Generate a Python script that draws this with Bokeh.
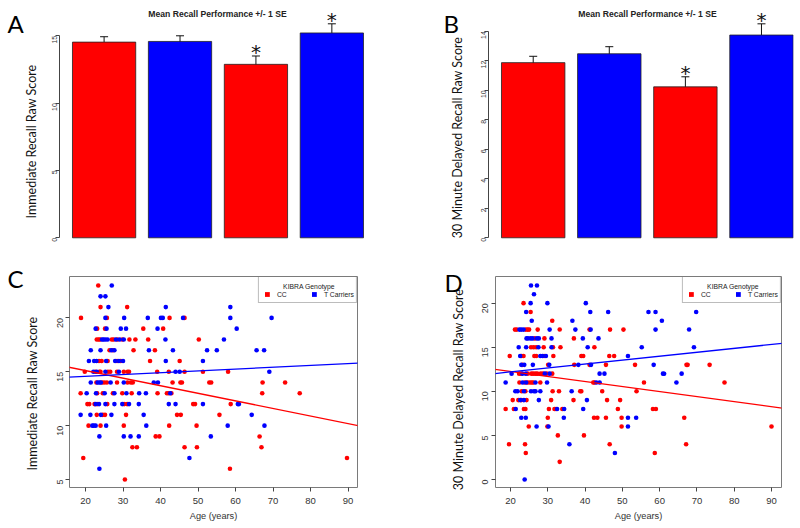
import math
from bokeh.plotting import figure
from bokeh.models import (ColumnDataSource, Range1d, FixedTicker, Whisker, TeeHead,
                          Label, Slope, Legend, LegendItem)
from bokeh.layouts import column, row
from bokeh.embed import file_html
from bokeh.resources import INLINE
from bokeh.core.properties import value

# ------------------------------------------------------------------ data
bar_groups = ["CC", "T Carriers", "CC", "T Carriers"]
bar_colors = ["#ff0000", "#0000ff", "#ff0000", "#0000ff"]

imm_mean = [14.53, 14.58, 12.88, 15.21]
imm_se = [0.40, 0.42, 0.62, 0.68]
imm_sig = [False, False, True, True]
imm_ticks = [0, 5, 10, 15]

del_mean = [11.87, 12.47, 10.23, 13.74]
del_se = [0.43, 0.48, 0.68, 0.76]
del_sig = [False, False, True, True]
del_ticks = [0, 2, 4, 6, 8, 10, 12, 14]

age_ticks = [20, 30, 40, 50, 60, 70, 80, 90]
imm_score_ticks = [5, 10, 15, 20]
del_score_ticks = [0, 5, 10, 15, 20]

# Panel C: immediate recall vs age
c_cc_age = [
    23.4,
    24.0, 31.1,
    18.8, 25.7, 42.4, 46.4,
    23.1, 25.2, 35.4, 40.7,
    23.0, 23.5, 23.9, 27.0, 27.5, 28.5, 29.8, 31.7, 33.3, 36.7, 50.2,
    26.4, 27.3, 32.8, 38.5,
    23.6, 24.3, 25.9, 28.4, 29.4, 37.2, 45.1,
    19.8, 22.6, 23.7, 24.0, 26.0, 26.6, 28.4, 30.2, 31.2, 31.6, 39.1, 42.2, 46.4, 51.3, 58.0,
    22.9, 24.4, 25.0, 25.7, 28.4, 31.2, 32.1, 32.6, 43.2, 45.3, 45.7, 53.0, 53.5, 67.2, 73.2,
    18.7, 23.1, 24.6, 27.3, 29.8, 32.3, 39.2, 41.7, 42.2, 42.9, 67.1, 77.1,
    20.5, 21.0, 22.4, 23.1, 25.8, 30.3, 31.1, 48.7, 49.2, 58.7,
    23.0, 24.6, 25.2, 30.8, 44.4, 45.4, 55.7,
    20.8, 24.0, 30.2, 42.3, 49.6,
    38.7, 39.7, 66.4,
    32.5, 33.7, 46.4, 49.7, 66.9,
    19.4, 89.7,
    58.5,
    30.5,
]
c_cc_score = [
    23,
    21, 21,
    20, 20, 20, 20,
    19, 19, 19, 19,
    18, 18, 18, 18, 18, 18, 18, 18, 18, 18, 18,
    17, 17, 17, 17,
    16, 16, 16, 16, 16, 16, 16,
    15, 15, 15, 15, 15, 15, 15, 15, 15, 15, 15, 15, 15, 15, 15,
    14, 14, 14, 14, 14, 14, 14, 14, 14, 14, 14, 14, 14, 14, 14,
    13, 13, 13, 13, 13, 13, 13, 13, 13, 13, 13, 13,
    12, 12, 12, 12, 12, 12, 12, 12, 12, 12,
    11, 11, 11, 11, 11, 11, 11,
    10, 10, 10, 10, 10,
    9, 9, 9,
    8, 8, 8, 8, 8,
    7, 7,
    6,
    5,
]
c_t_age = [
    27.0,
    24.0, 25.3,
    26.1, 41.4, 58.6,
    25.3, 30.3, 36.6, 40.1, 40.6, 46.0, 58.6, 69.6,
    22.7, 25.6, 29.4, 30.8, 39.2, 60.3,
    24.4, 24.8, 25.3, 25.9, 28.1, 29.1, 30.2, 41.3, 56.9,
    21.4, 24.0, 26.9, 27.7, 36.9, 43.3, 52.4, 55.0, 65.6, 67.6,
    20.9, 22.3, 22.9, 25.5, 27.9, 28.9, 30.0, 41.4, 51.3,
    22.1, 23.0, 25.3, 28.9, 44.0, 45.1, 69.0,
    21.4, 23.2, 23.7, 24.1, 26.7, 30.2, 38.2, 39.3,
    20.3, 22.8, 25.1, 27.7, 30.9, 34.3, 36.1, 42.6,
    22.7, 23.6, 25.3, 27.7, 29.8, 31.6, 34.2, 42.2, 44.0, 51.3, 60.6, 60.9,
    18.7, 21.3, 24.1, 26.9, 35.5, 64.3,
    21.8, 22.2, 22.7, 25.5, 36.2, 57.9, 67.7,
    23.7, 30.2, 32.0, 34.2, 53.4,
    47.7,
    23.7,
]
c_t_score = [
    23,
    22, 22,
    21, 21, 21,
    20, 20, 20, 20, 20, 20, 20, 20,
    19, 19, 19, 19, 19, 19,
    18, 18, 18, 18, 18, 18, 18, 18, 18,
    17, 17, 17, 17, 17, 17, 17, 17, 17, 17,
    16, 16, 16, 16, 16, 16, 16, 16, 16,
    15, 15, 15, 15, 15, 15, 15,
    14, 14, 14, 14, 14, 14, 14, 14,
    13, 13, 13, 13, 13, 13, 13, 13,
    12, 12, 12, 12, 12, 12, 12, 12, 12, 12, 12, 12,
    11, 11, 11, 11, 11, 11,
    10, 10, 10, 10, 10, 10, 10,
    9, 9, 9, 9, 9,
    7,
    6,
]

# Panel D: 30-minute delayed recall vs age
d_cc_age = [
    23.5,
    25.4,
    31.2,
    21.2, 21.7, 24.1, 24.6, 25.0, 27.3, 33.2, 41.2, 46.7, 50.3,
    26.5, 29.1, 37.0,
    25.5, 26.2, 26.9, 28.9, 31.4, 33.4, 42.5,
    19.8, 23.0, 23.5, 26.4, 26.9, 29.0, 31.5, 39.0, 39.5, 46.5, 47.8,
    23.2, 30.1, 37.1, 41.2, 45.6, 53.4, 67.2, 67.5, 73.4,
    22.3, 22.8, 24.6, 25.6, 26.1, 26.7, 27.2, 28.1, 28.7, 29.7, 31.2,
    22.4, 23.8, 24.6, 25.2, 25.7, 26.1, 28.0, 42.2, 42.5, 55.8, 77.4,
    23.0, 24.0, 31.3, 33.0, 38.7, 39.0, 44.6, 53.8,
    20.6, 22.1, 22.9, 24.3, 30.9, 36.9, 45.9, 49.4,
    18.7, 20.9, 23.6, 24.0, 30.3, 31.8, 32.2, 33.9, 48.8, 58.2, 59.0,
    30.0, 42.4, 43.3, 45.6, 49.8, 66.6,
    24.9, 29.9, 49.8, 90.0,
    32.7, 39.7,
    19.6, 23.9, 46.6, 67.1,
    24.1, 58.7,
    33.2,
]
d_cc_score = [
    20,
    19,
    18,
    17, 17, 17, 17, 17, 17, 17, 17, 17, 17,
    16, 16, 16,
    15, 15, 15, 15, 15, 15, 15,
    14, 14, 14, 14, 14, 14, 14, 14, 14, 14, 14,
    13, 13, 13, 13, 13, 13, 13, 13, 13,
    12, 12, 12, 12, 12, 12, 12, 12, 12, 12, 12,
    11, 11, 11, 11, 11, 11, 11, 11, 11, 11, 11,
    10, 10, 10, 10, 10, 10, 10, 10,
    9, 9, 9, 9, 9, 9, 9, 9,
    8, 8, 8, 8, 8, 8, 8, 8, 8, 8, 8,
    7, 7, 7, 7, 7, 7,
    6, 6, 6, 6,
    5, 5,
    4, 4, 4, 4,
    3, 3,
    2,
]
d_t_age = [
    25.5, 27.1,
    26.3,
    25.4, 29.9, 40.2,
    24.2, 41.4, 46.2, 57.0, 58.9, 69.8,
    25.7, 36.6, 60.6,
    22.4, 22.9, 23.5, 30.5, 37.4, 41.5, 58.9, 67.9,
    24.3, 24.7, 25.4, 25.9, 27.1, 27.6, 31.0, 39.4, 43.6,
    22.2, 24.2, 27.5, 31.0, 40.7, 55.2, 69.2,
    22.6, 28.0, 28.6, 29.5, 51.5,
    22.9, 23.7, 26.0, 30.4, 38.2, 41.6, 58.4,
    20.3, 23.2, 24.1, 29.2, 30.5, 43.9, 45.2, 60.9, 61.2, 65.9,
    18.7, 23.2, 24.2, 26.7, 29.8, 43.0, 43.9, 64.5,
    21.3, 21.9, 23.6, 25.5, 26.3, 26.7, 28.0, 36.4,
    22.6, 23.6, 27.6, 40.5,
    21.4, 32.5, 34.4, 39.5,
    22.9, 24.1, 34.3, 51.5, 53.7,
    27.0, 30.2, 51.5,
    35.8,
    48.0,
    23.8,
]
d_t_score = [
    22, 22,
    21,
    20, 20, 20,
    19, 19, 19, 19, 19, 19,
    18, 18, 18,
    17, 17, 17, 17, 17, 17, 17, 17,
    16, 16, 16, 16, 16, 16, 16, 16, 16,
    15, 15, 15, 15, 15, 15, 15,
    14, 14, 14, 14, 14,
    13, 13, 13, 13, 13, 13, 13,
    12, 12, 12, 12, 12, 12, 12, 12, 12, 12,
    11, 11, 11, 11, 11, 11, 11, 11,
    10, 10, 10, 10, 10, 10, 10, 10,
    9, 9, 9, 9,
    8, 8, 8, 8,
    7, 7, 7, 7, 7,
    6, 6, 6,
    4,
    3,
    0,
]

# fitted regression lines (intercept, slope)
c_cc_fit = (16.52, -0.0704)
c_t_fit = (14.24, 0.0168)
d_cc_fit = (13.40, -0.0572)
d_t_fit = (11.31, 0.0445)

assert len(c_cc_age) == len(c_cc_score)
assert len(c_t_age) == len(c_t_score)
assert len(d_cc_age) == len(d_cc_score)
assert len(d_t_age) == len(d_t_score)

# ------------------------------------------------------------------ helpers
RED = "#ff0000"
BLUE = "#0000ff"
FIG_W, FIG_H = 400, 264
AX_COL = "#444444"
TXT = "#333333"
NAN = float("nan")


def dx(p, fw, px):
    r = p.x_range
    return r.start + (r.end - r.start) * px / fw


def dy(p, fh, py):
    r = p.y_range
    return r.start + (r.end - r.start) * py / fh


def make_label(p, fw, fh, px, py, text, size, font="Liberation Sans", style="normal",
               align="left", baseline="alphabetic", color="#000000", angle=0.0):
    return Label(x=dx(p, fw, px), y=dy(p, fh, py), text=text, text_font=font,
                 text_font_size=size, text_font_style=style, text_align=align,
                 text_baseline=baseline, text_color=color, angle=angle)


def style_yaxis(ax, ticks, tick_size, tick_standoff, bounds=None):
    ax.ticker = FixedTicker(ticks=ticks)
    if bounds is not None:
        ax.bounds = bounds
    ax.major_label_orientation = math.pi / 2
    ax.major_tick_out = 4
    ax.major_tick_in = 0
    ax.minor_tick_out = 0
    ax.minor_tick_in = 0
    ax.axis_line_color = AX_COL
    ax.major_tick_line_color = AX_COL
    ax.major_label_text_font = "Liberation Sans"
    ax.major_label_text_font_size = tick_size
    ax.major_label_text_color = TXT
    ax.major_label_standoff = tick_standoff


def add_side_texts(p, fw, fh, ylabel, ylabel_pos, letter, letter_pos):
    # y-axis title (rotated) and panel letter, placed in the left side panel
    p.add_layout(make_label(p, fw, fh, ylabel_pos[0], ylabel_pos[1], ylabel, "12.5px",
                            font="Lato", align="center", baseline="middle",
                            color="#111111", angle=math.pi / 2), "left")
    p.add_layout(make_label(p, fw, fh, letter_pos[0], letter_pos[1], letter, "24px",
                            font="Lato"), "left")


def bar_panel(means, ses, sig, ticks, ylabel, ml, mr, xr, yr, letter, letter_pos,
              title_pos, ylabel_pos):
    mt, mb = 0, 18
    p = figure(width=FIG_W, height=FIG_H, x_range=Range1d(*xr), y_range=Range1d(*yr),
               x_axis_location=None, output_backend="svg", toolbar_location=None,
               min_border_left=ml, min_border_right=mr, min_border_top=mt,
               min_border_bottom=mb)
    fw, fh = FIG_W - ml - mr, FIG_H - mt - mb
    p.grid.visible = False
    p.outline_line_color = None
    xs = [0.7 + 1.2 * i for i in range(len(means))]
    upper = [m + s for m, s in zip(means, ses)]
    lower = [m - s for m, s in zip(means, ses)]
    src = ColumnDataSource(dict(x=xs, top=means, upper=upper, lower=lower,
                                color=bar_colors, group=bar_groups))
    p.vbar(x="x", top="top", bottom=0, width=1.0, fill_color="color",
           line_color="#222222", line_width=0.8, source=src)
    p.add_layout(Whisker(source=src, base="x", upper="upper", lower="lower",
                         line_color="#111111", line_width=1,
                         upper_head=TeeHead(size=8, line_color="#111111", line_width=1),
                         lower_head=TeeHead(size=8, line_color="#111111", line_width=1)))
    sx = [x for x, s in zip(xs, sig) if s]
    sy = [u for u, s in zip(upper, sig) if s]
    p.text(x=sx, y=sy, text=["*"] * len(sx), y_offset=-4, text_align="center",
           text_baseline="middle", text_font=value("DejaVu Sans"),
           text_font_size="20px", text_color="#111111")
    style_yaxis(p.yaxis[0], ticks, "7px", 1, bounds=(ticks[0], ticks[-1]))
    p.add_layout(make_label(p, fw, fh, title_pos[0], title_pos[1],
                            "Mean Recall Performance +/- 1 SE", "8.6px", style="bold",
                            align="center", color="#222222"))
    add_side_texts(p, fw, fh, ylabel, ylabel_pos, letter, letter_pos)
    return p


def scatter_panel(cc_age, cc_score, t_age, t_score, cc_fit, t_fit, ticks, ylabel,
                  ml, mr, xr, yr, letter, letter_pos, tick_standoff, ylabel_pos):
    mt, mb = 12, 41
    p = figure(width=FIG_W, height=FIG_H, x_range=Range1d(*xr), y_range=Range1d(*yr),
               output_backend="svg", toolbar_location=None,
               min_border_left=ml, min_border_right=mr, min_border_top=mt,
               min_border_bottom=mb)
    fw, fh = FIG_W - ml - mr, FIG_H - mt - mb
    p.grid.visible = False
    p.outline_line_color = "#7a7a7a"
    p.outline_line_width = 1
    p.scatter(cc_age, cc_score, size=4.6, fill_color=RED, line_color=None)
    p.scatter(t_age, t_score, size=4.6, fill_color=BLUE, line_color=None)
    p.add_layout(Slope(gradient=cc_fit[1], y_intercept=cc_fit[0], line_color=RED,
                       line_width=1.3))
    p.add_layout(Slope(gradient=t_fit[1], y_intercept=t_fit[0], line_color=BLUE,
                       line_width=1.3))

    xa = p.xaxis[0]
    xa.ticker = FixedTicker(ticks=age_ticks)
    xa.major_tick_out = 4
    xa.major_tick_in = 0
    xa.minor_tick_out = 0
    xa.minor_tick_in = 0
    xa.axis_line_color = None
    xa.major_tick_line_color = AX_COL
    xa.major_label_text_font = "Liberation Sans"
    xa.major_label_text_font_size = "9.5px"
    xa.major_label_text_color = TXT
    xa.major_label_standoff = 6
    xa.axis_label = "Age (years)"
    xa.axis_label_text_font = "Liberation Sans"
    xa.axis_label_text_font_size = "9.2px"
    xa.axis_label_text_font_style = "normal"
    xa.axis_label_text_color = TXT
    xa.axis_label_standoff = 4

    ya = p.yaxis[0]
    style_yaxis(ya, ticks, "9px", tick_standoff)
    ya.axis_line_color = None

    r_cc = p.scatter([NAN], [NAN], marker="square", size=5, fill_color=RED, line_color=None)
    r_t = p.scatter([NAN], [NAN], marker="square", size=5, fill_color=BLUE, line_color=None)
    leg = Legend(items=[LegendItem(label="CC", renderers=[r_cc]),
                        LegendItem(label="T Carriers", renderers=[r_t])],
                 orientation="horizontal", location="top_right", title=" ",
                 margin=0, padding=2, spacing=3, glyph_width=12, glyph_height=12,
                 label_standoff=4, label_width=28, label_height=12,
                 title_standoff=2, title_text_font_size="6.8px",
                 label_text_font="Liberation Sans", label_text_font_size="6.8px",
                 label_text_color="#222222", border_line_color="#7a7a7a",
                 border_line_width=1, background_fill_alpha=0.0)
    p.add_layout(leg)
    p.add_layout(make_label(p, fw, fh, fw - 48.5, fh - 9.5, "KIBRA Genotype", "6.8px",
                            align="center", color="#222222"))
    add_side_texts(p, fw, fh, ylabel, ylabel_pos, letter, letter_pos)
    return p


pA = bar_panel(imm_mean, imm_se, imm_sig, imm_ticks, "Immediate Recall Raw Score",
               ml=59, mr=25, xr=(-0.005, 4.99), yr=(-0.646, 17.62), letter="A",
               letter_pos=(-52, 223), title_pos=(158, 232.5), ylabel_pos=(-28, 105))
pB = bar_panel(del_mean, del_se, del_sig, del_ticks, "30 Minute Delayed Recall Raw Score",
               ml=88, mr=7, xr=(-0.005, 4.805), yr=(-0.59, 16.08), letter="B",
               letter_pos=(-45, 223), title_pos=(159, 232.5), ylabel_pos=(-31, 109))
pC = scatter_panel(c_cc_age, c_cc_score, c_t_age, c_t_score, c_cc_fit, c_t_fit,
                   imm_score_ticks, "Immediate Recall Raw Score",
                   ml=69, mr=43, xr=(15.73, 92.5), yr=(4.26, 23.84), letter="C",
                   letter_pos=(-62, 209), tick_standoff=5, ylabel_pos=(-37, 94))
pD = scatter_panel(d_cc_age, d_cc_score, d_t_age, d_t_score, d_cc_fit, d_t_fit,
                   del_score_ticks, "30 Minute Delayed Recall Raw Score",
                   ml=95, mr=19, xr=(15.98, 92.68), yr=(-0.91, 23.02), letter="D",
                   letter_pos=(-51, 205), tick_standoff=6, ylabel_pos=(-37.5, 98))

layout = column(row(pA, pB), row(pC, pD))
open("out.html", "w").write(file_html(layout, INLINE))
